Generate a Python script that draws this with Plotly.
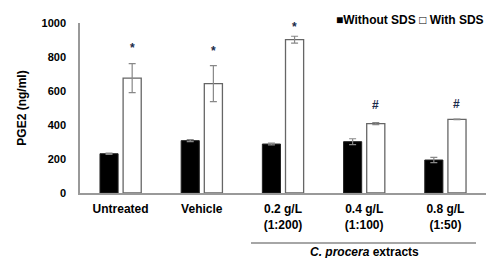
import plotly.graph_objects as go

categories = ["Untreated", "Vehicle", "0.2 g/L<br>(1:200)", "0.4 g/L<br>(1:100)", "0.8 g/L<br>(1:50)"]
without_sds = [231, 308, 288, 302, 194]
without_err = [4, 6, 5, 17, 15]
with_sds = [676, 643, 902, 408, 433]
with_err = [85, 106, 20, 6, 2]
marks = ["*", "*", "*", "#", "#"]
mark_y = [908, 888, 1029, 519, 525]
tick_values = [0, 200, 400, 600, 800, 1000]
Y_MAX = 1000

FONT = "Liberation Sans, Arial, sans-serif"

fig = go.Figure()
fig.add_trace(go.Bar(
    x=categories, y=without_sds, name="Without SDS",
    marker=dict(color="black", line=dict(color="#222222", width=1)),
    error_y=dict(type="data", array=without_err, color="#888888", thickness=1.2, width=3.5),
))
fig.add_trace(go.Bar(
    x=categories, y=with_sds, name="With SDS",
    marker=dict(color="white", line=dict(color="#666666", width=1.3)),
    error_y=dict(type="data", array=with_err, color="#888888", thickness=1.2, width=3.5),
))

for c, m, yv in zip(categories, marks, mark_y):
    fig.add_annotation(x=c, y=yv / Y_MAX, xref="x", yref="paper", text="<b>%s</b>" % m,
                       showarrow=False, xshift=11.5,
                       font=dict(family=FONT, size=12, color="#1a2a4a"))

fig.add_annotation(x=1, y=1.018, xref="paper", yref="paper", xanchor="right", yanchor="middle",
                   text="<b>■Without SDS □ With SDS</b>", showarrow=False,
                   font=dict(family=FONT, size=12, color="black"))

fig.add_shape(type="line", xref="x", yref="paper", x0=1.606, x1=4.377, y0=-0.294, y1=-0.294,
              line=dict(color="#888888", width=1.5))
fig.add_annotation(x=3.0, y=-0.345, xref="x", yref="paper", yanchor="middle",
                   text="<b><i>C. procera</i> extracts</b>", showarrow=False, borderpad=0,
                   font=dict(family=FONT, size=12, color="black"))

fig.update_layout(
    width=499, height=258,
    margin=dict(l=72, r=21, t=15, b=73),
    paper_bgcolor="white", plot_bgcolor="white",
    barmode="group", bargap=0.43, bargroupgap=0.217,
    showlegend=False,
    font=dict(family=FONT, size=12, color="black"),
)
fig.update_xaxes(
    tickvals=categories, ticktext=["<b>%s</b>" % c for c in categories],
    showline=True, linecolor="#999999", linewidth=1.5, ticks="",
    tickfont=dict(family=FONT, size=12, color="black"),
    range=[-0.5, 4.5], ticklabelstandoff=4, automargin=False,
)
fig.update_yaxes(
    range=[0, Y_MAX], tickvals=tick_values, ticktext=["<b>%d</b>" % v for v in tick_values],
    showline=True, linecolor="#999999", linewidth=1.5, ticks="", showgrid=False, zeroline=False,
    tickfont=dict(family=FONT, size=11, color="black"), ticklabelstandoff=10,
    title=dict(text="<b>PGE2 (ng/ml)</b>", font=dict(family=FONT, size=12), standoff=12),
    automargin=False,
)

fig.write_html("out.html")
